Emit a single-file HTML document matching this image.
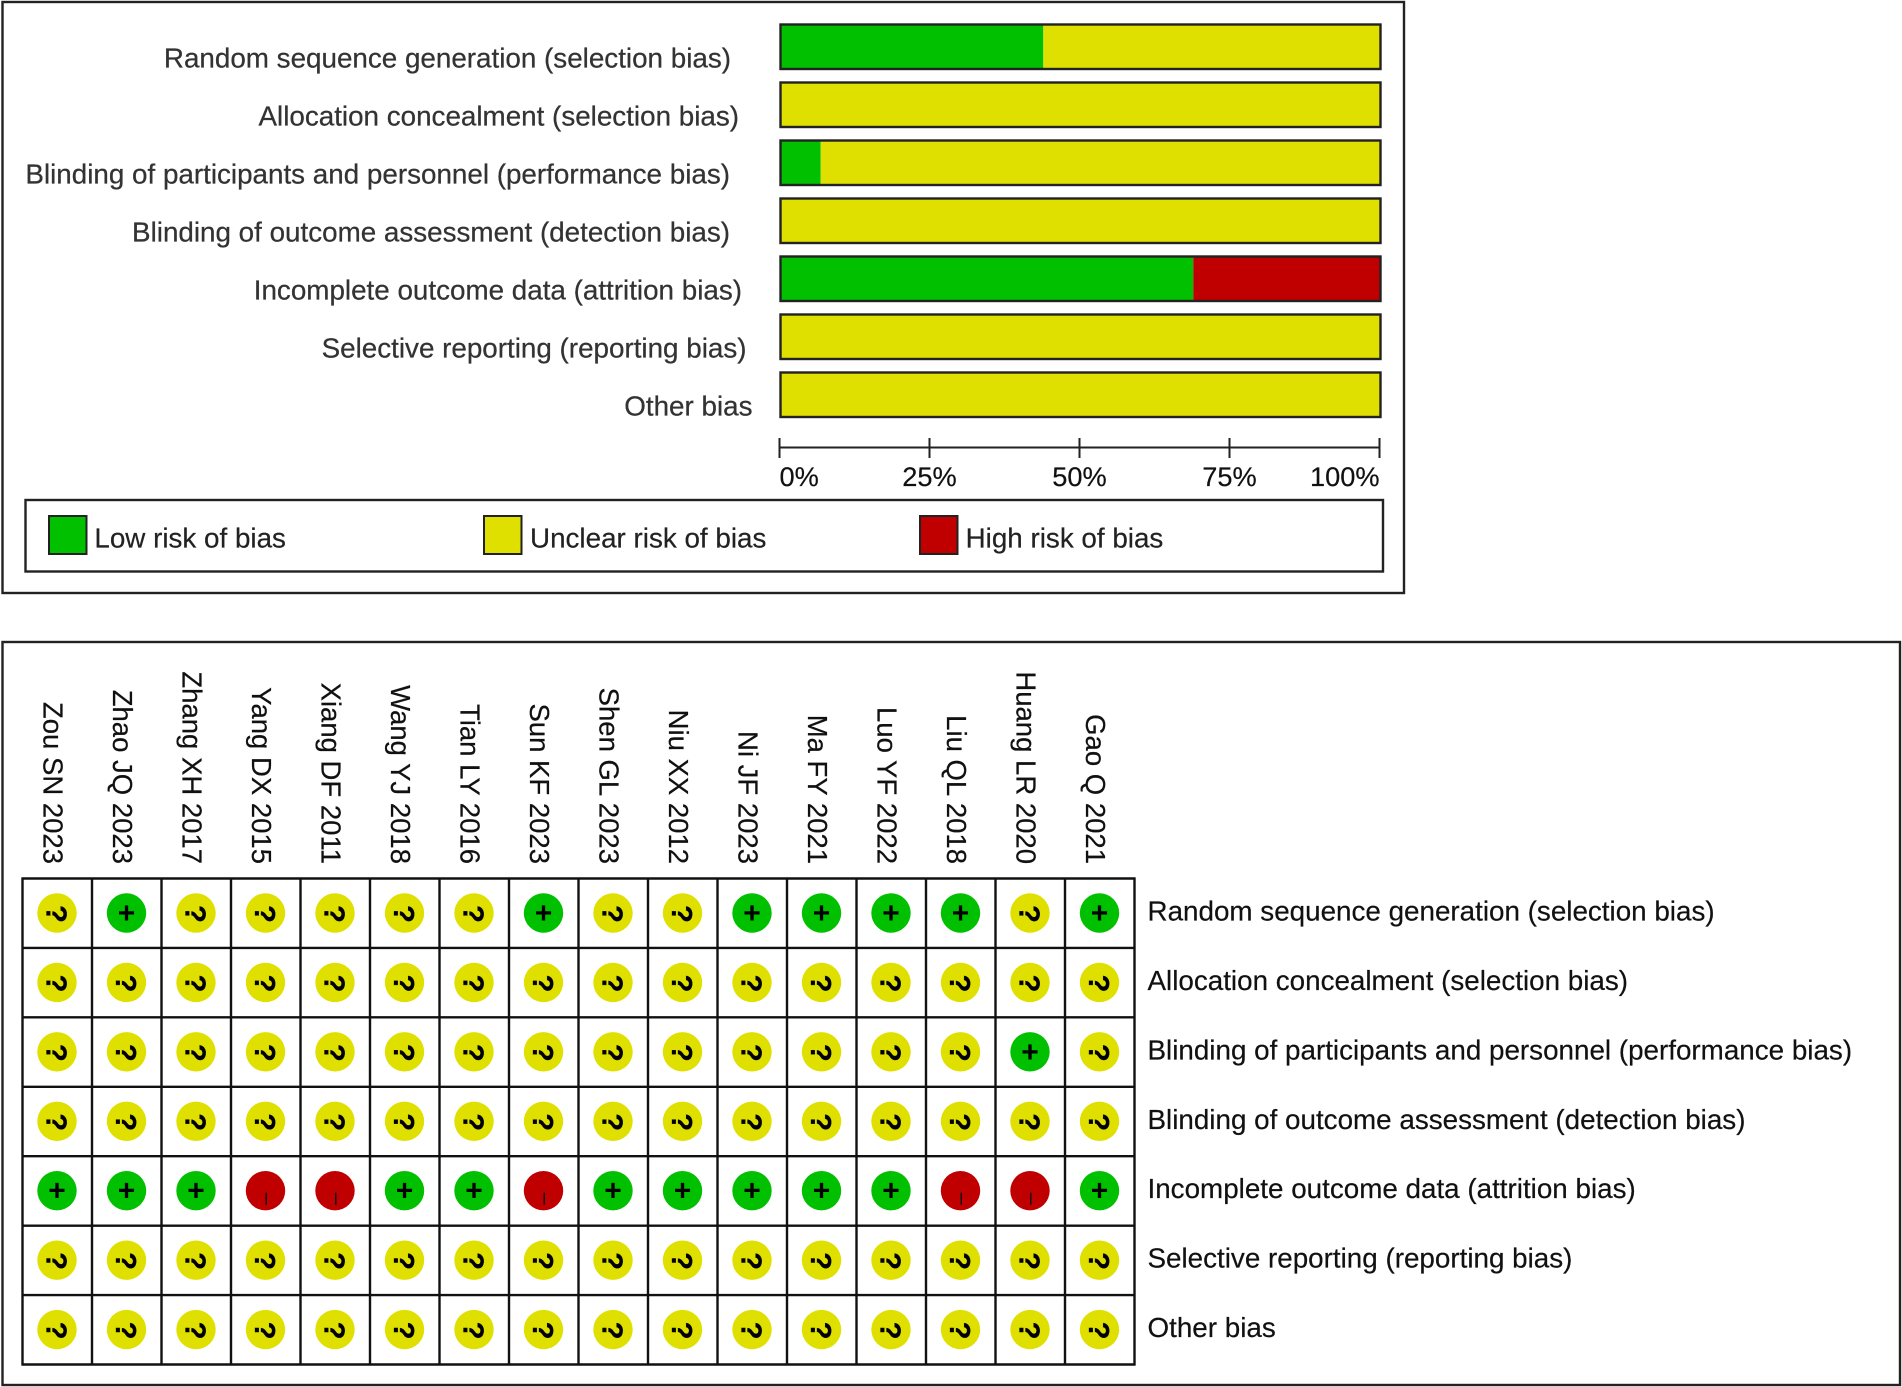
<!DOCTYPE html>
<html lang="en">
<head>
<meta charset="utf-8">
<title>Risk of bias summary</title>
<style>
html,body{margin:0;padding:0;background:#fff;width:1902px;height:1387px;overflow:hidden}
svg{display:block}
text{font-family:"Liberation Sans",Arial,sans-serif}
</style>
</head>
<body>
<svg id="fig" xmlns="http://www.w3.org/2000/svg" width="1902" height="1387" viewBox="0 0 1902 1387">
  <rect x="2.5" y="2" width="1401.5" height="591" fill="#fff" stroke="#222" stroke-width="2.4"/>
  <rect x="2.5" y="642" width="1897.5" height="743" fill="#fff" stroke="#222" stroke-width="2.4"/>
  <g id="bars"></g>
  <g id="axis"></g>
  <g id="legend"></g>
  <g id="matrix"></g>
</svg>
<script>
var domains = ["Random sequence generation (selection bias)","Allocation concealment (selection bias)","Blinding of participants and personnel (performance bias)","Blinding of outcome assessment (detection bias)","Incomplete outcome data (attrition bias)","Selective reporting (reporting bias)","Other bias"];
var lowRisk = [43.8,0,6.7,0,68.8,0,0];
var unclearRisk = [56.2,100,93.3,100,0,100,100];
var highRisk = [0,0,0,0,31.2,0,0];
var tickValues = [0,25,50,75,100];
var tickLabels = ["0%","25%","50%","75%","100%"];
var legendLabels = ["Low risk of bias","Unclear risk of bias","High risk of bias"];
var studies = ["Zou SN 2023","Zhao JQ 2023","Zhang XH 2017","Yang DX 2015","Xiang DF 2011","Wang YJ 2018","Tian LY 2016","Sun KF 2023","Shen GL 2023","Niu XX 2012","Ni JF 2023","Ma FY 2021","Luo YF 2022","Liu QL 2018","Huang LR 2020","Gao Q 2021"];
var judgementsRandom = ["?","+","?","?","?","?","?","+","?","?","+","+","+","+","?","+"];
var judgementsAllocation = ["?","?","?","?","?","?","?","?","?","?","?","?","?","?","?","?"];
var judgementsParticipants = ["?","?","?","?","?","?","?","?","?","?","?","?","?","?","+","?"];
var judgementsOutcome = ["?","?","?","?","?","?","?","?","?","?","?","?","?","?","?","?"];
var judgementsAttrition = ["+","+","+","-","-","+","+","-","+","+","+","+","+","-","-","+"];
var judgementsReporting = ["?","?","?","?","?","?","?","?","?","?","?","?","?","?","?","?"];
var judgementsOther = ["?","?","?","?","?","?","?","?","?","?","?","?","?","?","?","?"];
var judgements = [judgementsRandom,judgementsAllocation,judgementsParticipants,judgementsOutcome,judgementsAttrition,judgementsReporting,judgementsOther];

var NS = "http://www.w3.org/2000/svg";
var GREEN = "#00c000", YELLOW = "#e0e000", RED = "#c00000";
function mk(parent, tag, attrs, txt) {
  var e = document.createElementNS(NS, tag);
  for (var k in attrs) e.setAttribute(k, attrs[k]);
  if (txt !== undefined) e.textContent = txt;
  parent.appendChild(e);
  return e;
}
function xPct(v) { return 780.5 + v * 6; }
function yBar(i) { return 24.5 + i * 58; }
function colCenter(j) { return 57 + j * 69.5; }
function rowCenter(i) { return 913 + i * 69.43; }

/* ---------- bars ---------- */
var barsG = document.getElementById("bars");
var labelRight = [731,739,730,730,742,746.5,752.5];
domains.forEach(function (d, i) {
  var y = yBar(i), h = 44.5;
  var t = mk(barsG, "text", {x: labelRight[i], y: y + 43.2, "text-anchor": "end", "font-size": 27.8, fill: "#333", stroke: "#333", "stroke-width": 0.25}, d);
  
  
  var a = lowRisk[i], b = a + unclearRisk[i], c = b + highRisk[i];
  var s1 = mk(barsG, "rect", {x: xPct(0), y: y, width: xPct(a) - xPct(0), height: h, fill: GREEN});
  
  
  var s2 = mk(barsG, "rect", {x: xPct(a), y: y, width: xPct(b) - xPct(a), height: h, fill: YELLOW});
  
  
  var s3 = mk(barsG, "rect", {x: xPct(b), y: y, width: xPct(c) - xPct(b), height: h, fill: RED});
  
  
  var o = mk(barsG, "rect", {x: xPct(0), y: y, width: xPct(100) - xPct(0), height: h, fill: "none", stroke: "#222", "stroke-width": 2.4});
  
  
});

/* ---------- axis ---------- */
var axisG = document.getElementById("axis");
var axLine = mk(axisG, "line", {x1: xPct(0) - 1, x2: xPct(100) - 1, y1: 447.5, y2: 447.5, stroke: "#222", "stroke-width": 2});


tickValues.forEach(function (v, i) {
  var x = xPct(v) - 1;
  var tk = mk(axisG, "line", {x1: x, x2: x, y1: 438, y2: 458, stroke: "#222", "stroke-width": 2});
  
  
  var anchor = i === 0 ? "start" : (i === tickValues.length - 1 ? "end" : "middle");
  var lb = mk(axisG, "text", {x: x, y: 486, "text-anchor": anchor, "font-size": 27.2, fill: "#111", stroke: "#111", "stroke-width": 0.2}, tickLabels[i]);
  
  
});

/* ---------- legend ---------- */
var legG = document.getElementById("legend");
var legBox = mk(legG, "rect", {x: 25.5, y: 500, width: 1357.5, height: 71.5, fill: "#fff", stroke: "#222", "stroke-width": 2.4});


var legColors = [GREEN, YELLOW, RED];
var legX = [49, 484, 920];
var legTx = [94.4, 530, 965.6];
legendLabels.forEach(function (l, i) {
  var sw = mk(legG, "rect", {x: legX[i], y: 516, width: 37.5, height: 38, fill: legColors[i], stroke: "#222", "stroke-width": 2});
  
  
  var tx = mk(legG, "text", {x: legTx[i], y: 547.5, "font-size": 27.8, fill: "#222", stroke: "#222", "stroke-width": 0.2}, l);
  
  
});

/* ---------- matrix ---------- */
var mG = document.getElementById("matrix");
var gx0 = 22.5, gy0 = 878.5, cw = 69.5, ch = 69.43;
for (var r = 0; r <= domains.length; r++) {
  var hl = mk(mG, "line", {x1: gx0 - 1, x2: gx0 + cw * studies.length + 1, y1: gy0 + r * ch, y2: gy0 + r * ch, stroke: "#111", "stroke-width": 2.4});
  
  
}
for (var c = 0; c <= studies.length; c++) {
  var vl = mk(mG, "line", {x1: gx0 + c * cw, x2: gx0 + c * cw, y1: gy0 - 1, y2: gy0 + ch * domains.length + 1, stroke: "#111", "stroke-width": 2.4});
  
  
}
studies.forEach(function (s, j) {
  var cx = colCenter(j) - 13.5;
  var st = mk(mG, "text", {transform: "translate(" + cx + ",864) rotate(90)", "text-anchor": "end", "font-size": 27.5, fill: "#111", stroke: "#111", "stroke-width": 0.2}, s);
  
  
});
domains.forEach(function (d, i) {
  var rl = mk(mG, "text", {x: 1147.5, y: rowCenter(i) + 7.5, "font-size": 27.8, fill: "#111", stroke: "#111", "stroke-width": 0.2}, d);
  
  
  judgements[i].forEach(function (v, j) {
    var cx = colCenter(j), cy = rowCenter(i);
    var fill = v === "+" ? GREEN : (v === "-" ? RED : YELLOW);
    var dot = mk(mG, "circle", {cx: cx, cy: cy, r: 19.7, fill: fill});
    
    
    var g;
    if (v === "+") {
      g = mk(mG, "text", {x: cx, y: cy + 10, "text-anchor": "middle", "font-size": 30, "font-weight": "bold", fill: "#000"}, "+");
    } else if (v === "-") {
      g = mk(mG, "text", {transform: "translate(" + (cx + 2) + "," + (cy + 8) + ") rotate(90)", "text-anchor": "middle", y: 7, "font-size": 22, fill: "#111"}, "\u2013");
    } else {
      g = mk(mG, "text", {transform: "translate(" + cx + "," + (cy + 1) + ") rotate(90)", y: 10.5, "text-anchor": "middle", "font-size": 29, "font-weight": "bold", fill: "#000", stroke: "#000", "stroke-width": 0.3}, "?");
    }
    
    
  });
});
</script>
</body>
</html>
